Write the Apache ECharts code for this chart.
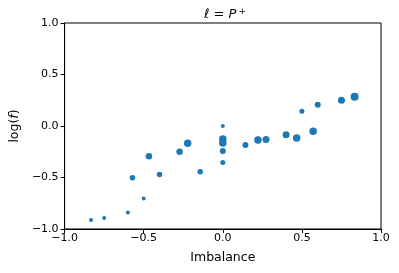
<!DOCTYPE html>
<html><head><meta charset="utf-8">
<script src="https://cdn.jsdelivr.net/npm/echarts@6/dist/echarts.min.js"></script>
<style>html,body{margin:0;padding:0;background:#fff}#c{width:399px;height:273px}</style>
</head><body><div id="c"></div>
<script>
var imbalance = [-0.833,-0.75,-0.6,-0.5,-0.571,-0.4,-0.467,-0.273,-0.222,-0.143,0,0,0,0,0,0.143,0.222,0.273,0.4,0.467,0.5,0.571,0.6,0.75,0.833];
var logf = [-0.913,-0.894,-0.839,-0.704,-0.503,-0.471,-0.293,-0.249,-0.168,-0.445,0.0,-0.125,-0.165,-0.242,-0.355,-0.184,-0.136,-0.132,-0.084,-0.116,0.142,-0.051,0.206,0.249,0.284];
var markerSize = [4,4,4,4,5.5,5.5,6.5,6.5,7.5,5.5,4,7.5,7.5,6,5,6,7.5,7,7,7.5,5,7.5,6,7,8];
var tickValues = [-1.0,-0.5,0.0,0.5,1.0];

var pts = imbalance.map(function(x,i){return [x, logf[i], markerSize[i]];});
function fmt(v){var s=Math.abs(v).toFixed(1);return (v<0?'\u2212':'')+s;}
var font='DejaVu Sans';
var chart = echarts.init(document.getElementById('c'),null,{renderer:'canvas'});
chart.setOption({
  animation:false,
  textStyle:{fontFamily:font},
  title:{
    text:'{i|\u2113} = {i|P}{s|+}',
    left:220, top:2, textAlign:'center',
    textStyle:{fontFamily:font,fontSize:13,fontWeight:'normal',color:'#000',
      rich:{i:{fontStyle:'italic',fontSize:13,fontFamily:font},s:{fontSize:9,fontFamily:font,padding:[0,0,7,2]}}}
  },
  grid:{left:63,right:18,top:23,bottom:44,show:true,borderColor:'#000',borderWidth:1,backgroundColor:'transparent'},
  xAxis:{
    type:'value',min:-1,max:1,interval:0.5,
    name:'Imbalance',nameLocation:'middle',nameGap:22,
    nameTextStyle:{fontFamily:font,fontSize:12.5,color:'#000',verticalAlign:'top'},
    axisLine:{show:true,onZero:false,lineStyle:{color:'#000',width:1}},
    axisTick:{show:true,inside:false,length:4,lineStyle:{color:'#000'}},
    axisLabel:{fontFamily:font,fontSize:11,color:'#000',margin:4,formatter:fmt},
    splitLine:{show:false}
  },
  yAxis:{
    type:'value',min:-1,max:1,interval:0.5,
    name:'log({i|f})',nameLocation:'middle',nameGap:40,nameRotate:90,
    nameTextStyle:{fontFamily:font,fontSize:12.5,color:'#000',rich:{i:{fontStyle:'italic',fontSize:12.5,fontFamily:font}}},
    axisLine:{show:true,onZero:false,lineStyle:{color:'#000',width:1}},
    axisTick:{show:true,inside:false,length:4,lineStyle:{color:'#000'}},
    axisLabel:{fontFamily:font,fontSize:11,color:'#000',margin:6,formatter:fmt},
    splitLine:{show:false}
  },
  series:[{
    type:'scatter',
    data:pts,
    symbol:'circle',
    symbolSize:function(d){return d[2];},
    itemStyle:{color:'#1f77b4',opacity:1}
  }]
});
</script></body></html>
